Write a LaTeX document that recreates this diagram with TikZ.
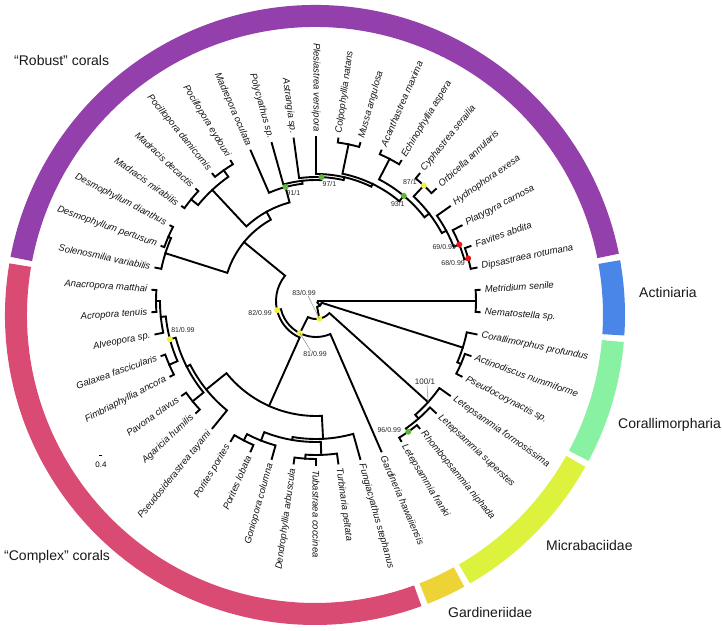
\documentclass[tikz,border=0pt]{standalone}
\usepackage{fontspec}
\setmainfont{Liberation Sans}
\definecolor{cPurple}{HTML}{9440AC}
\definecolor{cPink}{HTML}{DA4B74}
\definecolor{cBlue}{HTML}{4A86E8}
\definecolor{cGreen}{HTML}{88F1A2}
\definecolor{cYellow}{HTML}{DDF23C}
\definecolor{cGold}{HTML}{EDD335}
\definecolor{dGreen}{HTML}{5DB833}
\definecolor{dYellow}{HTML}{F2F03A}
\definecolor{dRed}{HTML}{E8141C}
\newcommand\setnd[3]{\expandafter\xdef\csname ang-#1\endcsname{#2}\expandafter\xdef\csname rad-#1\endcsname{#3}}
\newcommand\getang[1]{\csname ang-#1\endcsname}
\newcommand\leaf[3]{%
  \pgfmathsetmacro\lfA{(#2+0.5)*7.826087}%
  \setnd{#1}{\lfA}{164}%
  \coordinate (#1) at (\lfA:164pt);%
  \pgfmathtruncatemacro\lfF{and(\lfA>=89.9,\lfA<269.9)}%
  \ifnum\lfF=1
    \pgfmathsetmacro\lfB{\lfA-180}%
    \node[lab, anchor=east, rotate=\lfB] (#1-t) at (\lfA:169pt) {#3};%
  \else
    \node[lab, anchor=west, rotate=\lfA] (#1-t) at (\lfA:169pt) {#3};%
  \fi}
\newcommand\clade[4]{%
  \pgfmathsetmacro\cdA{\getang{#3}}%
  \pgfmathsetmacro\cdB{\getang{#4}}%
  \pgfmathsetmacro\cdM{(\cdA+\cdB)/2}%
  \setnd{#1}{\cdM}{#2}%
  \coordinate (#1) at (\cdM:#2pt);%
  \draw[br] (#3) -- (\cdA:#2pt) arc[start angle=\cdA, end angle=\cdB, radius=#2pt] -- (#4);}
\begin{document}
\begin{tikzpicture}[x=1pt,y=1pt,
  br/.style={draw=black, line width=1.9pt, line cap=rect, line join=miter},
  lab/.style={font=\fontsize{9.5}{10}\selectfont\itshape, inner sep=0pt, text=black!92},
  suplab/.style={font=\fontsize{7}{8}\selectfont, inner sep=0pt, text=black!85},
  grp/.style={font=\fontsize{14}{16}\selectfont, inner sep=0pt, anchor=west, text=black!90},
  lead/.style={draw=black!45, line width=0.5pt},
  ring/.style={line width=22pt, line cap=butt}]
\fill[white] (0,0) rectangle (722,631);
\useasboundingbox (0,0) rectangle (722,631);
% ---------- coloured ring ----------
\begin{scope}[shift={(315,316)}]
  \draw[ring, cPurple] (11.4:299pt) arc[start angle=11.4, end angle=169.2, radius=299pt];
  \draw[ring, cPink] (170.4:299pt) arc[start angle=170.4, end angle=290.1, radius=299pt];
  \draw[ring, cGold] (291.3:299pt) arc[start angle=291.3, end angle=298.8, radius=299pt];
  \draw[ring, cYellow] (300.0:299pt) arc[start angle=300.0, end angle=330.7, radius=299pt];
  \draw[ring, cGreen] (331.9:299pt) arc[start angle=331.9, end angle=355.0, radius=299pt];
  \draw[ring, cBlue] (356.2:299pt) arc[start angle=356.2, end angle=370.2, radius=299pt];
\end{scope}
% ---------- group labels ----------
\node[grp] (gRob) at (14,570) {“Robust” corals};
\node[grp] (gAct) at (639,338) {Actiniaria};
\node[grp] (gCor) at (618,206) {Corallimorpharia};
\node[grp] (gMic) at (546,86) {Micrabaciidae};
\node[grp] (gGar) at (448,19) {Gardineriidae};
\node[grp] (gCom) at (4,74) {“Complex” corals};
% scale
\coordinate (sbA) at (99,176); \coordinate (sbB) at (102,176);
\draw[black, line width=0.6pt] (sbA) -- (sbB);
\node[font=\fontsize{8}{9}\selectfont, inner sep=0pt] (sbL) at (101,166) {0.4};
% ---------- tree ----------
\begin{scope}[shift={(316,330)}]
\leaf{Dip}{1}{Dipsastraea rotumana}
\leaf{Fav}{2}{Favites abdita}
\leaf{Pla}{3}{Platygyra carnosa}
\leaf{Hyd}{4}{Hydnophora exesa}
\leaf{Orb}{5}{Orbicella annularis}
\leaf{Cyp}{6}{Cyphastrea serailia}
\leaf{Ech}{7}{Echinophyllia aspera}
\leaf{Aca}{8}{Acanthastrea maxima}
\leaf{Mus}{9}{Mussa angulosa}
\leaf{Col}{10}{Colpophyllia natans}
\leaf{Ple}{11}{Plesiastrea versipora}
\leaf{Ast}{12}{Astrangia sp.}
\leaf{Pol}{13}{Polycyathus sp.}
\leaf{Mad}{14}{Madrepora oculata}
\leaf{Pey}{15}{Pocillopora eydouxi}
\leaf{Pda}{16}{Pocillopora damicornis}
\leaf{Mde}{17}{Madracis decactis}
\leaf{Mmi}{18}{Madracis mirabilis}
\leaf{Ddi}{19}{Desmophyllum dianthus}
\leaf{Dpe}{20}{Desmophyllum pertusum}
\leaf{Sol}{21}{Solenosmilia variabilis}
\leaf{Ana}{22}{Anacropora matthai}
\leaf{Acr}{23}{Acropora tenuis}
\leaf{Alv}{24}{Alveopora sp.}
\leaf{Gal}{25}{Galaxea fascicularis}
\leaf{Fim}{26}{Fimbriaphyllia ancora}
\leaf{Pav}{27}{Pavona clavus}
\leaf{Aga}{28}{Agaricia humilis}
\leaf{Pse}{29}{Pseudosiderastrea tayami}
\leaf{Ppo}{30}{Porites porites}
\leaf{Plo}{31}{Porites lobata}
\leaf{Gon}{32}{Goniopora columna}
\leaf{Den}{33}{Dendrophyllia arbuscula}
\leaf{Tub}{34}{Tubastraea coccinea}
\leaf{Tur}{35}{Turbinaria peltata}
\leaf{Fun}{36}{Fungiacyathus stephanus}
\leaf{Gar}{37}{Gardineria hawaiiensis}
\leaf{Lfr}{38}{Letepsammia franki}
\leaf{Rho}{39}{Rhombopsammia niphada}
\leaf{Lsu}{40}{Letepsammia superstes}
\leaf{Lfo}{41}{Letepsammia formosissima}
\leaf{Psc}{42}{Pseudocorynactis sp.}
\leaf{Act}{43}{Actinodiscus nummiforme}
\leaf{Crp}{44}{Corallimorphus profundus}
\leaf{Nem}{45}{Nematostella sp.}
\leaf{Met}{46}{Metridium senile}
% clades
\clade{ACT}{160}{Nem}{Met}
\clade{AP}{158}{Psc}{Act}
\clade{COR}{154}{AP}{Crp}
\clade{FR}{160}{Lfr}{Rho}
\clade{FRS}{156}{FR}{Lsu}
\clade{MIC}{151}{FRS}{Lfo}
\clade{RB12}{158}{Dip}{Fav}
\clade{RB11}{154}{RB12}{Pla}
\clade{RB10}{148}{RB11}{Hyd}
\clade{CO}{158}{Orb}{Cyp}
\clade{RB9}{143}{RB10}{CO}
\clade{AE}{160}{Ech}{Aca}
\clade{RB8}{137}{RB9}{AE}
\clade{CM}{160}{Mus}{Col}
\clade{RB7}{130}{RB8}{CM}
\clade{RB6}{127}{RB7}{Ple}
\clade{RB5}{124}{RB6}{Ast}
\clade{RB4}{121}{RB5}{Pol}
\clade{RB3}{118}{RB4}{Mad}
\clade{PP2}{160}{Pey}{Pda}
\clade{MM}{161}{Mde}{Mmi}
\clade{PM}{152}{PP2}{MM}
\clade{RB2}{102}{RB3}{PM}
\clade{DDP}{161}{Ddi}{Dpe}
\clade{DS}{158}{DDP}{Sol}
\clade{RB}{93}{RB2}{DS}
\clade{AA}{160}{Ana}{Acr}
\clade{ACR}{156}{AA}{Alv}
\clade{GF}{160}{Gal}{Fim}
\clade{K}{151}{ACR}{GF}
\clade{PA}{159}{Pav}{Aga}
\clade{KP}{145}{K}{PA}
\clade{L}{141}{KP}{Pse}
\clade{PP}{157}{Ppo}{Plo}
\clade{X}{150}{PP}{Gon}
\clade{DT}{158}{Den}{Tub}
\clade{Y}{154}{DT}{Tur}
\clade{XY}{141}{X}{Y}
\clade{CF}{138}{XY}{Fun}
\clade{CC}{115}{L}{CF}
\clade{F}{40}{RB}{CC}
\clade{E}{36}{F}{Gar}
\clade{D}{18}{E}{MIC}
\clade{C}{6}{D}{COR}
\clade{ROOT}{2}{C}{ACT}
% support dots
\fill[dGreen] (RB3) circle (3pt);
\fill[dGreen] (RB5) circle (3pt);
\fill[dGreen] (RB8) circle (3pt);
\fill[dYellow] (CO) circle (3pt);
\fill[dRed] (RB11) circle (3pt);
\fill[dRed] (RB12) circle (3pt);
\fill[dYellow] (F) circle (3pt);
\fill[dYellow] (E) circle (3pt);
\fill[dYellow] (D) circle (3pt);
\fill[dYellow] (K) circle (3pt);
\fill[dGreen] (FR) circle (3pt);
% support labels
\node[suplab] (s91) at ([shift={(8,-6)}]RB3) {91/1};
\node[suplab] (s97) at ([shift={(8,-7)}]RB5) {97/1};
\node[suplab] (s93) at ([shift={(-6,-8)}]RB8) {93/1};
\node[suplab] (s87) at ([shift={(-14,3.5)}]CO) {87/1};
\node[suplab] (s69) at ([shift={(-15,-2.5)}]RB11) {69/0.99};
\node[suplab] (s68) at ([shift={(-15,-4.5)}]RB12) {68/0.99};
\node[suplab] (s82) at ([shift={(-17,-3)}]F) {82/0.99};
\node[suplab] (s81l) at ([shift={(13,9)}]K) {81/0.99};
\node[suplab] (s96) at ([shift={(-19,2)}]FR) {96/0.99};
\end{scope}
\node[suplab] (s83) at (304,338) {83/0.99};
\draw[lead] ([xshift=4pt]s83.south) -- (D);
\node[suplab] (s81c) at (315,277) {81/0.99};
\draw[lead] ([xshift=-4pt]s81c.north) -- (E);
\node[suplab, font=\fontsize{8}{9}\selectfont] (s100) at (425,249) {100/1};
\draw[lead] ([xshift=2pt]s100.south) -- (MIC);
\end{tikzpicture}
\end{document}
